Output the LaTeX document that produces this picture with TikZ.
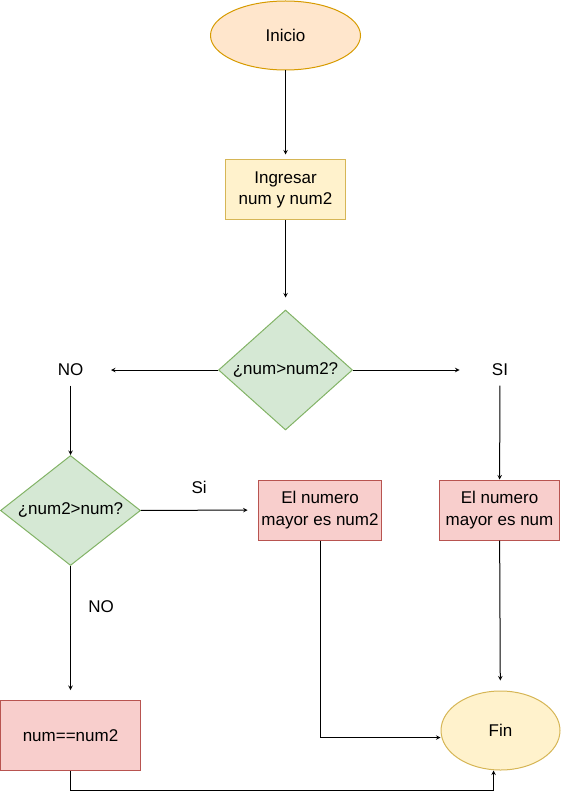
\documentclass[tikz,border=0pt]{standalone}
\usepackage{fontspec}
\setmainfont{Liberation Sans}
\usetikzlibrary{shapes.geometric}
\definecolor{naranjaF}{HTML}{FFE6CC}
\definecolor{naranjaB}{HTML}{D79B00}
\definecolor{amarilloF}{HTML}{FFF2CC}
\definecolor{amarilloB}{HTML}{D6B656}
\definecolor{verdeF}{HTML}{D5E8D4}
\definecolor{verdeB}{HTML}{82B366}
\definecolor{rojoF}{HTML}{F8CECC}
\definecolor{rojoB}{HTML}{B85450}
\begin{document}
\begin{tikzpicture}[x=1pt, y=-1pt, line width=1pt,
    font=\fontsize{17}{21.5}\selectfont,
    terminal/.style={ellipse, fill=amarilloF, draw=amarilloB},
    caja/.style={rectangle, align=center, fill=rojoF, draw=rojoB, minimum width=120pt, minimum height=60pt},
    decision/.style={diamond, fill=verdeF, draw=verdeB, inner sep=-10pt},
    etiqueta/.style={minimum width=80pt, minimum height=30pt, inner sep=0pt}]
    \useasboundingbox (0,0) rectangle (561,799);

    % Inicio y entrada
    \node[terminal, fill=naranjaF, draw=naranjaB, minimum width=150pt, minimum height=69pt] (inicio) at (285.5,35.5) {Inicio};
    \node[caja, fill=amarilloF, draw=amarilloB] (ingresar) at (285.5,190) {Ingresar\\num y num2};

    % Decisiones
    \node[decision, minimum width=134pt, minimum height=120pt] (d1) at (285.5,370) {¿num>num2?};
    \node[etiqueta] (no1) at (70.5,370) {NO};
    \node[etiqueta] (si1) at (500,370) {SI};
    \node[decision, minimum width=140pt, minimum height=110pt] (d2) at (70.5,510.5) {¿num2>num?};

    % Resultados
    \node[caja] (mayor2) at (320,510) {El numero\\mayor es num2};
    \node[caja] (mayor1) at (499.5,510) {El numero\\mayor es num};
    \node[caja, minimum width=140pt, minimum height=70pt] (igual) at (70.5,735.5) {num==num2};
    \node[terminal, minimum width=119pt, minimum height=79pt] (fin) at (500.5,730.5) {Fin};

    % Flechas
    \draw[-stealth, shorten >=5pt] (inicio) -- (ingresar);
    \draw[-stealth, shorten >=12pt] (ingresar) -- (d1);
    \draw[-stealth] (d1) -- (no1);
    \draw[-stealth] (d1) -- (si1);
    \draw[-stealth] (no1) -- (d2);
    \draw[-stealth] (si1) -- (mayor1);
    \draw[-stealth, shorten >=10pt] (d2) -- node[above=13pt] {Si} (mayor2);
    \draw[-stealth, shorten >=10pt] (d2) -- node[pos=0.3, right=14pt] {NO} (igual);
    \draw[-stealth] (mayor2) |- ([yshift=-7pt]fin.west);
    \draw[-stealth, shorten >=10pt] (mayor1) -- (fin);
    \draw[-stealth] (igual) -- ++(0,55) -| ([xshift=-7pt]fin.south);
\end{tikzpicture}
\end{document}
